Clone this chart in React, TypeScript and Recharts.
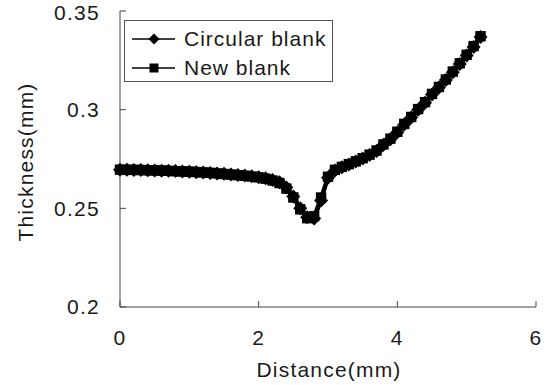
import { LineChart, Line, XAxis, YAxis, Legend, Label } from "recharts";

const distance = [
  0.0, 0.1, 0.2, 0.3, 0.4, 0.5, 0.6, 0.7, 0.8, 0.9,
  1.0, 1.1, 1.2, 1.3, 1.4, 1.5, 1.6, 1.7, 1.8, 1.9,
  2.0, 2.1, 2.2, 2.3, 2.4, 2.5, 2.6, 2.7, 2.8, 2.9,
  3.0, 3.1, 3.2, 3.3, 3.4, 3.5, 3.6, 3.7, 3.8, 3.9,
  4.0, 4.1, 4.2, 4.3, 4.4, 4.5, 4.6, 4.7, 4.8, 4.9,
  5.0, 5.1, 5.2,
];

const circularBlank = [
  0.2695, 0.2695, 0.2694, 0.2694, 0.2693, 0.2692, 0.2691, 0.269, 0.2689, 0.2687,
  0.2685, 0.2683, 0.2681, 0.2679, 0.2677, 0.2675, 0.2672, 0.2669, 0.2666, 0.2662,
  0.2658, 0.2652, 0.2643, 0.2632, 0.2605, 0.256, 0.25, 0.2455, 0.2448, 0.254,
  0.2655, 0.2692, 0.2708, 0.2722, 0.2737, 0.2752, 0.277, 0.279, 0.2822, 0.285,
  0.2885, 0.2925, 0.296, 0.3, 0.3035, 0.3077, 0.3112, 0.315, 0.319, 0.3232,
  0.3275, 0.3318, 0.3368,
];

const newBlank = [
  0.2696, 0.2695, 0.2695, 0.2694, 0.2693, 0.2692, 0.2692, 0.269, 0.2688, 0.2687,
  0.2686, 0.2684, 0.2682, 0.268, 0.2677, 0.2674, 0.2671, 0.2668, 0.2665, 0.2661,
  0.2657, 0.265, 0.2641, 0.2628, 0.26, 0.2555, 0.2495, 0.245, 0.246, 0.2555,
  0.266, 0.2695, 0.271, 0.2724, 0.2738, 0.2754, 0.2772, 0.2793, 0.2824, 0.2853,
  0.2888, 0.2928, 0.2963, 0.3003, 0.3038, 0.308, 0.3115, 0.3153, 0.3193, 0.3235,
  0.3278, 0.3322, 0.3372,
];

const xTicks = [0, 2, 4, 6];
const yTicks = [0.2, 0.25, 0.3, 0.35];

const seriesNames = ["Circular blank", "New blank"];

const data = distance.map((d, i) => ({
  distance: d,
  circular: circularBlank[i],
  newBlank: newBlank[i],
}));

const font = "'Liberation Sans', Arial, sans-serif";
const ink = "#1a1a1a";

const DiamondDot = (props: any) => {
  const { cx, cy, index } = props;
  if (cx == null || cy == null) return <g key={`d-${index}`} />;
  const r = 7;
  return (
    <path
      key={`d-${index}`}
      d={`M${cx},${cy - r}L${cx + r},${cy}L${cx},${cy + r}L${cx - r},${cy}Z`}
      fill="#000"
    />
  );
};

const SquareDot = (props: any) => {
  const { cx, cy, index } = props;
  if (cx == null || cy == null) return <g key={`s-${index}`} />;
  const h = 5.2;
  return <rect key={`s-${index}`} x={cx - h} y={cy - h} width={h * 2} height={h * 2} fill="#000" />;
};

const renderLegend = () => (
  <div
    style={{
      position: "relative",
      width: 209,
      height: 62,
      border: "1px solid #555",
      boxSizing: "border-box",
      background: "#fff",
      fontFamily: font,
      fontSize: 21,
      letterSpacing: 1,
      color: ink,
    }}
  >
    {seriesNames.map((name, i) => (
      <div
        key={name}
        style={{
          position: "absolute",
          left: 0,
          top: 5 + i * 29,
          height: 26,
          display: "flex",
          alignItems: "center",
          whiteSpace: "nowrap",
        }}
      >
        <svg width={58} height={20} style={{ display: "block" }}>
          <line x1={7} y1={10} x2={50} y2={10} stroke="#000" strokeWidth={1.5} />
          {i === 0 ? (
            <path d="M29,4.5L34.5,10L29,15.5L23.5,10Z" fill="#000" />
          ) : (
            <rect x={24.5} y={5.5} width={9} height={9} fill="#000" />
          )}
        </svg>
        <span style={{ marginLeft: 1 }}>{name}</span>
      </div>
    ))}
  </div>
);

const tickStyle = { fontSize: 21, fill: ink, fontFamily: font, letterSpacing: 1.3 };

export default function App() {
  return (
    <div style={{ position: "absolute", left: 0, top: 0, background: "#fff" }}>
      <LineChart
        width={550}
        height={385}
        data={data}
        margin={{ top: 11, right: 14, left: 20, bottom: 12 }}
      >
        <XAxis
          dataKey="distance"
          type="number"
          domain={[0, 6]}
          ticks={xTicks}
          tickSize={-6}
          tickMargin={29}
          height={66}
          axisLine={{ stroke: "#444", strokeWidth: 1 }}
          tickLine={{ stroke: "#444" }}
          tick={tickStyle}
        >
          <Label
            content={() => (
              <text
                x={329}
                y={377}
                textAnchor="middle"
                fontSize={21}
                fontFamily={font}
                letterSpacing={1.2}
                fill={ink}
              >
                Distance(mm)
              </text>
            )}
          />
        </XAxis>
        <YAxis
          type="number"
          domain={[0.2, 0.35]}
          ticks={yTicks}
          tickSize={-6}
          tickMargin={26}
          width={100}
          axisLine={{ stroke: "#444", strokeWidth: 1 }}
          tickLine={{ stroke: "#444" }}
          tick={tickStyle}
          tickFormatter={(v: number) => String(v)}
        >
          <Label
            content={() => (
              <text
                x={25}
                y={162}
                transform="rotate(-90 25 162)"
                textAnchor="middle"
                dominantBaseline="central"
                fontSize={21}
                fontFamily={font}
                letterSpacing={1.2}
                fill={ink}
              >
                Thickness(mm)
              </text>
            )}
          />
        </YAxis>
        <Legend
          layout="vertical"
          align="center"
          verticalAlign="middle"
          content={renderLegend}
          wrapperStyle={{ left: 124, top: 20, width: 209 }}
        />
        <Line
          name={seriesNames[0]}
          dataKey="circular"
          type="linear"
          stroke="#000"
          strokeWidth={4}
          dot={DiamondDot}
          isAnimationActive={false}
        />
        <Line
          name={seriesNames[1]}
          dataKey="newBlank"
          type="linear"
          stroke="#000"
          strokeWidth={4}
          dot={SquareDot}
          isAnimationActive={false}
        />
      </LineChart>
    </div>
  );
}
